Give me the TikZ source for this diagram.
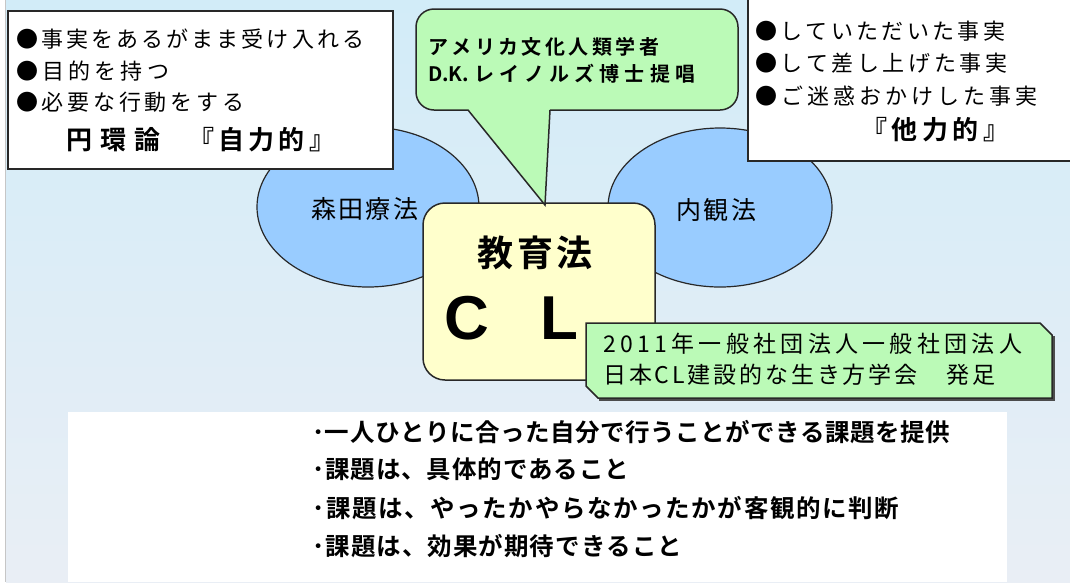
\documentclass[tikz,border=0pt]{standalone}
\usepackage{fontspec}
\setmainfont{Noto Sans CJK JP}[BoldFont={Noto Sans CJK JP Bold}]
\newfontfamily\clfont{Liberation Sans}
\def\spfirst#1{#1\sploop}
\def\sploop#1{\ifx#1\relax\else\hfil#1\expandafter\sploop\fi}
\newcommand\spread[2]{\hbox to #1{\spfirst#2\relax}}
\definecolor{bgtop}{RGB}{210,236,248}
\definecolor{bgbot}{RGB}{233,238,245}
\definecolor{ellfill}{RGB}{153,204,255}
\definecolor{yel}{RGB}{255,255,204}
\definecolor{grn}{RGB}{187,250,183}
\definecolor{bd}{RGB}{40,40,40}
\tikzset{
  ell/.style={ellipse, draw=bd, fill=ellfill, line width=1.2, inner sep=0},
  wbox/.style={rectangle, draw=bd, fill=white, line width=2, inner sep=0},
  txt/.style={anchor=west, inner sep=0, text height=0.88em, text depth=0.12em, yshift=-3.5pt},
  reg/.style={txt, font=\fontsize{22}{26}\selectfont},
  boldl/.style={txt, font=\bfseries\fontsize{26}{30}\selectfont},
  lst/.style={txt, font=\bfseries\fontsize{24.5}{29}\selectfont},
}
\usetikzlibrary{shapes.geometric}
\begin{document}
\begin{tikzpicture}[x=1pt,y=-1pt]
\useasboundingbox (0,0) rectangle (1070,582);
% background
\fill[white] (0,0) rectangle (1070,582);
\shade[top color=bgtop, bottom color=bgbot] (6,0) rectangle (1070,582);
\draw[gray!45, line width=1] (5.5,0) -- (5.5,582);
% bottom white panel
\fill[white] (68,412) rectangle (1007,582);
% ellipses
\node[ell, minimum width=222, minimum height=160] (morita) at (368,207) {};
\node[ell, minimum width=224, minimum height=159] (naikan) at (720,207.5) {};
\node[anchor=center, inner sep=0, font=\fontsize{25}{28}\selectfont] (moritaT) at (364.5,209) {\spread{107pt}{森田療法}};
\node[anchor=center, inner sep=0, font=\fontsize{25}{28}\selectfont] (naikanT) at (716,210) {\spread{80pt}{内観法}};
% top-left box
\node[wbox, anchor=north west, minimum width=385, minimum height=158] (jiriki) at (7,10) {};
\node[reg] (tl1) at (16,40) {\spread{348pt}{●事実をあるがまま受け入れる}};
\node[reg] (tl2) at (16,72) {\spread{153pt}{●目的を持つ}};
\node[reg] (tl3) at (16,103) {\spread{228pt}{●必要な行動をする}};
\node[boldl] (tl4) at (66,142) {\spread{94pt}{円環論}};
\node[boldl] (tl5) at (188,142) {\spread{147pt}{『自力的』}};
% top-right box
\node[wbox, anchor=north west, minimum width=330, minimum height=163] (tariki) at (747,-3) {};
\node[reg] (tr1) at (755,32) {\spread{250pt}{●していただいた事実}};
\node[reg] (tr2) at (755,64) {\spread{252pt}{●して差し上げた事実}};
\node[reg] (tr3) at (755,97) {\spread{282pt}{●ご迷惑おかけした事実}};
\node[boldl] (tr4) at (861,132) {\spread{148pt}{『他力的』}};
% center box
\node[rectangle, rounded corners=22, draw=bd, fill=yel, line width=1.5, minimum width=232, minimum height=177, inner sep=0] (cl) at (539,291.5) {};
\node[anchor=center, inner sep=0, font=\bfseries\fontsize{36}{40}\selectfont] (kyoiku) at (535,253) {\spread{116pt}{教育法}};
\node[anchor=center, inner sep=0, font=\clfont\bfseries\fontsize{62}{66}\selectfont] (cC) at (467,318) {C};
\node[anchor=center, inner sep=0, font=\clfont\bfseries\fontsize{62}{66}\selectfont] (cL) at (559,318) {L};
% callout
\node[rectangle, rounded corners=18, draw=bd, fill=grn, line width=1.5, minimum width=322, minimum height=101, inner sep=0] (dk) at (577,59.5) {};
\coordinate (tip) at (545,205);
\fill[grn] (468,107) -- (550,107) -- (549.95,111) -- (tip) -- (468.8,111) -- cycle;
\draw[bd, line width=1.5, line join=miter] (468,110) -- (tip) -- (550,110);
\node[txt, font=\bfseries\fontsize{20}{24}\selectfont] (dk1) at (428,47) {\spread{231pt}{アメリカ文化人類学者}};
\node[txt, font=\bfseries\fontsize{20}{24}\selectfont] (dk2) at (428,74) {\spread{267pt}{{D.K.}レイノルズ博士提唱}};
% founding box
\draw[gray!60!black, line width=2] (599,399.5) -- (1053.5,399.5) -- (1053.5,336);
\draw[bd, fill=grn, line width=1.5] (586,323) -- (1040,323) -- (1052,335) -- (1052,398) -- (598,398) -- (586,386) -- cycle;
\node[txt, font=\fontsize{23}{26}\selectfont] (f1) at (603,345) {\spread{419pt}{2011年一般社団法人一般社団法人}};
\node[txt, font=\fontsize{23}{26}\selectfont] (f2) at (603,376) {\spread{392pt}{日本CL建設的な生き方学会　発足}};
% bottom list
\node[lst] (b1) at (312,434) {\spread{638pt}{･一人ひとりに合った自分で行うことができる課題を提供}};
\node[lst] (b2) at (312,471) {\spread{317pt}{･課題は、具体的であること}};
\node[lst] (b3) at (312,510) {\spread{587pt}{･課題は、やったかやらなかったかが客観的に判断}};
\node[lst] (b4) at (312,548) {\spread{370pt}{･課題は、効果が期待できること}};
\end{tikzpicture}
\end{document}
